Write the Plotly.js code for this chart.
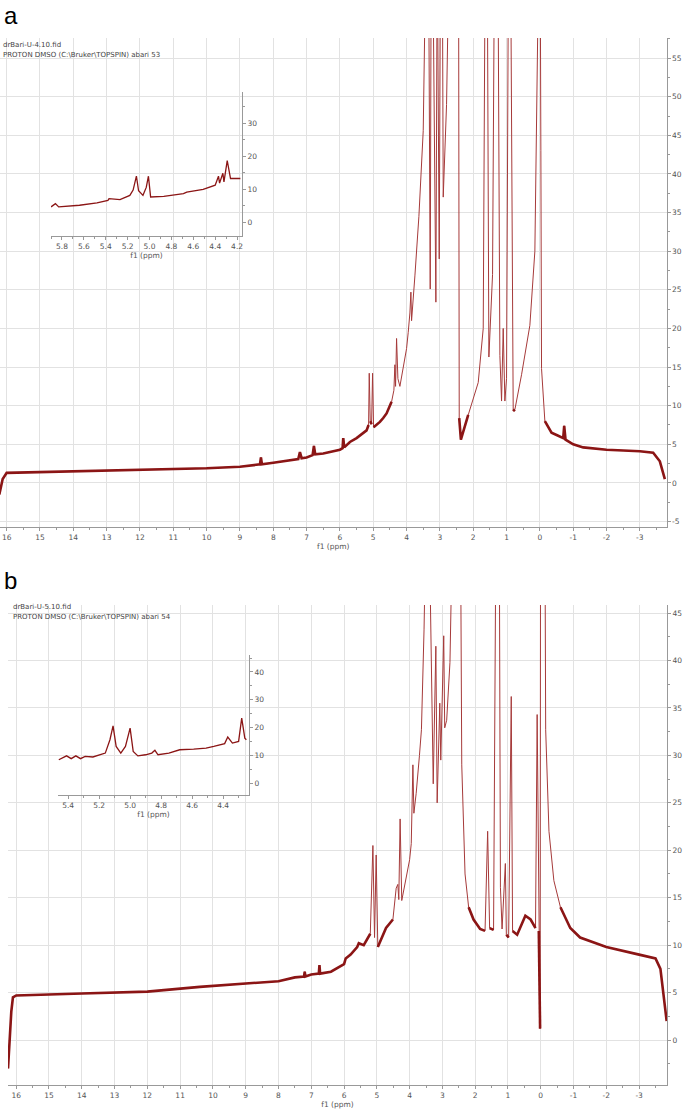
<!DOCTYPE html>
<html>
<head>
<meta charset="utf-8">
<script src="https://cdn.plot.ly/plotly-3.0.1.min.js"></script>
<style>
  body { margin: 0; background: #fff; }
  #nmr { width: 685px; height: 1111px; }
</style>
</head>
<body>
<div id="nmr"></div>
<script>
// Spectrum a (drBari-U-4.10): chemical shift (ppm) and intensity
var ppmA = [16.22, 16.12, 16.0, 15.0, 14.0, 13.0, 12.0, 11.0, 10.0, 9.0, 8.4, 8.37, 8.34, 8.0,
  7.25, 7.2, 7.15, 7.0, 6.82, 6.78, 6.74, 6.5, 6.3, 6.0, 5.92, 5.9, 5.87, 5.7, 5.5, 5.2, 5.14, 5.12, 5.09,
  5.05, 5.02, 4.99, 4.8, 4.7, 4.6, 4.45, 4.38, 4.35, 4.33, 4.30, 4.26, 4.2, 4.1, 4.0, 3.95, 3.9, 3.87, 3.85, 3.75,
  3.63, 3.5, 3.45, 3.40, 3.33, 3.29, 3.26, 3.20, 3.12, 3.08, 3.02, 2.98, 2.92, 2.90, 2.80, 2.72,
  2.50, 2.44, 2.42, 2.37, 2.15, 1.85, 1.70, 1.64, 1.58, 1.53, 1.42, 1.36, 1.26, 1.20, 1.15, 1.10,
  1.05, 1.00, 0.94, 0.88, 0.80, 0.75, 0.55, 0.30, 0.15, 0.12, 0.06, 0.00, -0.03, -0.05, -0.15,
  -0.35, -0.55, -0.70, -0.73, -0.77, -1.0, -1.3, -2.0, -3.0, -3.4, -3.6, -3.75];
var intA = [-1.5, 0.5, 1.3, 1.4, 1.5, 1.6, 1.7, 1.8, 1.9, 2.1, 2.4, 3.3, 2.4, 2.6,
  3.1, 4.0, 3.2, 3.3, 3.6, 4.8, 3.7, 3.8, 4.0, 4.3, 4.5, 5.8, 4.6, 5.3, 5.8, 6.8, 7.5, 14.2, 8.0,
  7.6, 14.2, 7.2, 7.9, 8.4, 9.0, 10.5, 12.0, 15.3, 12.5, 18.7, 13.5, 12.5, 15.0, 17.4, 19.5, 22.0, 24.7, 21.0, 26.8,
  34.5, 45.6, 62, 75, 60, 25.1, 70, 62, 23.4, 70, 29, 70, 60, 37, 49, 70,
  90, 70, 8.4, 5.6, 8.8, 13.0, 20.0, 70, 70, 16.3, 27, 70, 70, 16.5, 10.6, 20.0,
  10.6, 13.5, 70, 70, 9.3, 9.5, 14.0, 20.4, 30.0, 42, 80, 80, 43, 14.8, 8.0,
  6.5, 6.1, 5.8, 7.4, 5.6, 5.0, 4.6, 4.3, 4.1, 3.9, 2.8, 0.5];

// Inset a: 5.9 - 4.15 ppm
var insetPpmA = [5.90, 5.86, 5.83, 5.64, 5.48, 5.38, 5.37, 5.27, 5.18, 5.15, 5.12, 5.10, 5.06, 5.03,
  5.01, 4.99, 4.87, 4.69, 4.66, 4.51, 4.40, 4.37, 4.36, 4.33, 4.32, 4.29, 4.26, 4.17];
var insetIntA = [4.6, 5.6, 4.6, 5.1, 5.8, 6.6, 7.1, 6.8, 8.1, 9.7, 13.9, 9.5, 8.1, 10.5,
  13.9, 7.6, 7.8, 8.6, 9.1, 9.9, 11.2, 13.9, 11.8, 14.8, 12.2, 18.6, 13.2, 13.2];

// Spectrum b (drBari-U-5.10)
var ppmB = [16.25, 16.2, 16.15, 16.1, 16.0, 14.0, 12.0, 10.4, 10.0, 9.0, 8.5, 8.0, 7.5, 7.22, 7.2,
  7.18, 7.0, 6.77, 6.75, 6.73, 6.4, 6.2, 6.0, 5.95, 5.8, 5.6, 5.55, 5.4, 5.2, 5.12, 5.07, 5.02, 4.97,
  4.72, 4.51, 4.41, 4.36, 4.33, 4.29, 4.24, 4.1, 4.0, 3.95, 3.9, 3.87, 3.8, 3.7, 3.64, 3.56, 3.53, 3.45,
  3.28, 3.2, 3.16, 3.08, 3.05, 2.96, 2.93, 2.87, 2.77, 2.72, 2.5, 2.41, 2.36, 2.31, 2.2, 2.05,
  1.85, 1.7, 1.62, 1.56, 1.44, 1.34, 1.28, 1.23, 1.18, 1.08, 1.05, 0.98, 0.9, 0.86, 0.72, 0.47,
  0.31, 0.16, 0.11, 0.06, 0.02, 0.0, -0.1, -0.15, -0.25, -0.4, -0.6, -0.9, -1.2, -2.0, -3.0,
  -3.5, -3.65, -3.75, -3.84];
var intB = [-3.0, 0.0, 3.0, 4.5, 4.7, 4.9, 5.1, 5.6, 5.7, 6.0, 6.1, 6.2, 6.6, 6.7, 7.2,
  6.7, 6.9, 7.0, 7.9, 7.0, 7.2, 7.6, 8.0, 8.6, 9.0, 9.8, 10.2, 10.0, 11.2, 20.5, 10.8, 19.5, 9.8,
  11.8, 12.7, 16.0, 16.4, 14.8, 23.3, 14.7, 17.1, 19.0, 20.7, 29.0, 23.9, 26.0, 30.0, 32.7, 43.3, 60, 65,
  27.0, 41.5, 25.0, 35.5, 29.5, 42.6, 32.9, 33.7, 39.8, 60, 90, 29.0, 22.0, 17.5, 14.0, 12.7,
  11.7, 11.5, 22.0, 11.8, 11.6, 70, 70, 16.1, 11.7, 18.6, 11.1, 10.8, 36.2, 11.5, 11.1, 13.1,
  12.7, 11.8, 34.3, 11.5, 1.2, 80, 80, 32.7, 22.0, 16.8, 14.0, 11.8, 10.8, 9.8, 9.0,
  8.6, 7.5, 4.5, 2.0];

// Inset b: 5.47 - 4.23 ppm
var insetPpmB = [5.46, 5.41, 5.38, 5.35, 5.32, 5.29, 5.24, 5.16, 5.13, 5.11, 5.09, 5.06, 5.03,
  5.00, 4.98, 4.95, 4.90, 4.86, 4.84, 4.82, 4.75, 4.68, 4.59, 4.51, 4.46, 4.39, 4.37, 4.34,
  4.30, 4.28, 4.26, 4.25];
var insetIntB = [8.4, 9.8, 8.8, 9.8, 8.8, 9.6, 9.4, 10.8, 15.6, 20.6, 13.2, 10.8, 13.2,
  19.8, 11.4, 9.8, 10.2, 10.8, 11.8, 10.2, 10.8, 12.0, 12.2, 12.6, 13.2, 14.2, 16.6, 14.4,
  15.0, 23.4, 16.2, 15.6];

// Tick labels
var ppmTicks = [16, 15, 14, 13, 12, 11, 10, 9, 8, 7, 6, 5, 4, 3, 2, 1, 0, -1, -2, -3];
var ppmTickText = ["16", "15", "14", "13", "12", "11", "10", "9", "8", "7", "6", "5", "4", "3",
  "2", "1", "0", "-1", "-2", "-3"];
var yTicksA = [-5, 0, 5, 10, 15, 20, 25, 30, 35, 40, 45, 50, 55];
var yTickTextA = ["-5", "0", "5", "10", "15", "20", "25", "30", "35", "40", "45", "50", "55"];
var yTicksB = [0, 5, 10, 15, 20, 25, 30, 35, 40, 45];
var insetTicksA = [5.8, 5.6, 5.4, 5.2, 5.0, 4.8, 4.6, 4.4, 4.2];
var insetTicksB = [5.4, 5.2, 5.0, 4.8, 4.6, 4.4];
var insetYTicks = [0, 10, 20, 30, 40];

var red = "#8b1515";
var peakRed = "#a63a3a";
var tickFont = {family: "DejaVu Sans", size: 7.5, color: "#555"};

// the noisy baseline is drawn thicker than the sharp peaks
function lowPart(vals, lim) {
  return vals.map(function (v) { return v < lim ? v : null; });
}

var data = [
  {x: ppmA, y: intA, xaxis: "x", yaxis: "y", type: "scatter", mode: "lines",
   line: {color: peakRed, width: 1}, hoverinfo: "skip"},
  {x: ppmA, y: lowPart(intA, 12), xaxis: "x", yaxis: "y", type: "scatter", mode: "lines",
   line: {color: red, width: 2.6}, connectgaps: false, hoverinfo: "skip"},
  {x: insetPpmA, y: insetIntA, xaxis: "x2", yaxis: "y2", type: "scatter", mode: "lines",
   line: {color: red, width: 1.3}, hoverinfo: "skip"},
  {x: ppmB, y: intB, xaxis: "x3", yaxis: "y3", type: "scatter", mode: "lines",
   line: {color: peakRed, width: 1}, hoverinfo: "skip"},
  {x: ppmB, y: lowPart(intB, 15), xaxis: "x3", yaxis: "y3", type: "scatter", mode: "lines",
   line: {color: red, width: 2.6}, connectgaps: false, hoverinfo: "skip"},
  {x: insetPpmB, y: insetIntB, xaxis: "x4", yaxis: "y4", type: "scatter", mode: "lines",
   line: {color: red, width: 1.3}, hoverinfo: "skip"}
];

function mainX(dom, rng, anchor) {
  return {
    domain: dom, range: rng, anchor: anchor,
    tickmode: "array", tickvals: ppmTicks, ticktext: ppmTickText,
    ticks: "outside", ticklen: 3, tickcolor: "#999",
    minor: {tickmode: "linear", tick0: 0, dtick: 0.5, ticks: "outside", ticklen: 2, tickcolor: "#999", showgrid: false},
    showline: true, linecolor: "#999", linewidth: 1,
    showgrid: true, gridcolor: "#e2e2e2", zeroline: false,
    tickfont: tickFont,
    title: {text: "f1 (ppm)", font: tickFont, standoff: 0}
  };
}
function mainY(dom, rng, anchor, vals, text) {
  return {
    domain: dom, range: rng, anchor: anchor, side: "right",
    tickmode: "array", tickvals: vals, ticktext: text,
    ticks: "outside", ticklen: 3, tickcolor: "#999",
    minor: {tickmode: "linear", tick0: 0, dtick: 2.5, ticks: "outside", ticklen: 2, tickcolor: "#999", showgrid: false},
    showline: true, linecolor: "#999", linewidth: 1,
    showgrid: true, gridcolor: "#e2e2e2", zeroline: false,
    tickfont: tickFont
  };
}
function insetX(dom, rng, anchor, vals) {
  return {
    domain: dom, range: rng, anchor: anchor,
    tickmode: "array", tickvals: vals, ticktext: vals.map(function (v) { return v.toFixed(1); }),
    ticks: "outside", ticklen: 3, tickcolor: "#999",
    minor: {tickmode: "linear", tick0: 0, dtick: 0.1, ticks: "outside", ticklen: 2, tickcolor: "#999", showgrid: false},
    showline: true, linecolor: "#999", linewidth: 1,
    showgrid: false, zeroline: false,
    tickfont: tickFont,
    title: {text: "f1 (ppm)", font: tickFont, standoff: 0}
  };
}
function insetY(dom, rng, anchor) {
  return {
    domain: dom, range: rng, anchor: anchor, side: "right",
    tickmode: "array", tickvals: insetYTicks, ticktext: insetYTicks.map(String),
    ticks: "outside", ticklen: 3, tickcolor: "#999",
    minor: {tickmode: "linear", tick0: 0, dtick: 5, ticks: "outside", ticklen: 2, tickcolor: "#999", showgrid: false},
    showline: true, linecolor: "#999", linewidth: 1,
    showgrid: false, zeroline: false,
    tickfont: tickFont
  };
}

var small = {family: "DejaVu Sans", size: 7, color: "#444"};
var big = {family: "Liberation Sans", size: 24, color: "#000"};

var layout = {
  width: 685, height: 1111,
  margin: {l: 0, r: 0, t: 0, b: 0},
  paper_bgcolor: "#fff", plot_bgcolor: "rgba(0,0,0,0)",
  showlegend: false,
  xaxis: mainX([0, 0.973], [16.2, -3.8], "y"),
  yaxis: mainY([0.5257, 0.9658], [-5.7, 57.6], "x", yTicksA, yTickTextA),
  xaxis2: insetX([0.0745, 0.3533], [5.9, 4.155], "y2", insetTicksA),
  yaxis2: insetY([0.7876, 0.9172], [-4.2, 39.4], "x2"),
  xaxis3: mainX([0.0117, 0.9737], [16.25, -3.85], "y3"),
  yaxis3: mainY([0.0234, 0.4554], [-4.74, 45.84], "x3", yTicksB, yTicksB.map(String)),
  xaxis4: insetX([0.0847, 0.3635], [5.465, 4.233], "y4", insetTicksB),
  yaxis4: insetY([0.2844, 0.4104], [-4.3, 46.1], "x4"),
  annotations: [
    {text: "a", x: 0.003, y: 1 - 15 / 1111, xref: "paper", yref: "paper", xanchor: "left", yanchor: "middle", showarrow: false, font: big},
    {text: "drBari-U-4.10.fid", x: 0.002, y: 1 - 45 / 1111, xref: "paper", yref: "paper", xanchor: "left", yanchor: "middle", showarrow: false, font: small},
    {text: "PROTON DMSO (C:\\Bruker\\TOPSPIN) abari 53", x: 0.002, y: 1 - 55 / 1111, xref: "paper", yref: "paper", xanchor: "left", yanchor: "middle", showarrow: false, font: small},
    {text: "b", x: 0.003, y: 1 - 580 / 1111, xref: "paper", yref: "paper", xanchor: "left", yanchor: "middle", showarrow: false, font: big},
    {text: "drBari-U-5.10.fid", x: 0.016, y: 1 - 607 / 1111, xref: "paper", yref: "paper", xanchor: "left", yanchor: "middle", showarrow: false, font: small},
    {text: "PROTON DMSO (C:\\Bruker\\TOPSPIN) abari 54", x: 0.016, y: 1 - 617 / 1111, xref: "paper", yref: "paper", xanchor: "left", yanchor: "middle", showarrow: false, font: small}
  ]
};

Plotly.newPlot("nmr", data, layout, {staticPlot: true});
</script>
</body>
</html>
